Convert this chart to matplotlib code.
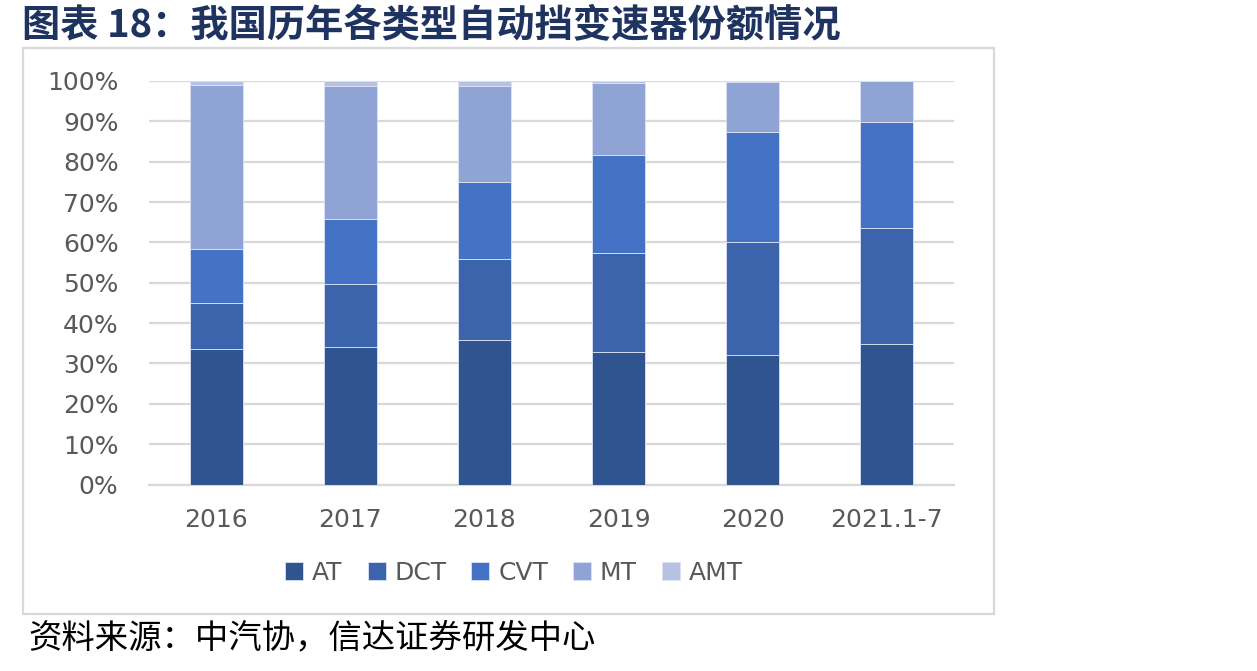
import matplotlib
matplotlib.use('Agg')
import matplotlib.pyplot as plt
from matplotlib.patches import Rectangle
import numpy as np

plt.rcParams['font.family'] = ['DejaVu Sans', 'Noto Sans CJK SC']

# data (share of each transmission type, %)
years = ['2016', '2017', '2018', '2019', '2020', '2021.1-7']
at = [33.6, 34.1, 35.9, 32.8, 32.2, 34.9]
dct = [11.4, 15.7, 20.1, 24.6, 27.9, 28.7]
cvt = [13.4, 16.1, 19.0, 24.3, 27.3, 26.3]
mt = [40.7, 32.9, 23.8, 17.7, 12.4, 10.1]
amt = [0.9, 1.2, 1.2, 0.6, 0.2, 0.0]
y_ticks = [0, 10, 20, 30, 40, 50, 60, 70, 80, 90, 100]

series = [('AT', at, '#30548F'), ('DCT', dct, '#3B64AD'), ('CVT', cvt, '#4472C4'),
          ('MT', mt, '#8FA4D5'), ('AMT', amt, '#B6C1E3')]

fig = plt.figure(figsize=(12.57, 6.71), dpi=100)
ax = fig.add_axes([149/1257, 1 - 484.5/671, (954-149)/1257, (484.5-81)/671])

x = np.arange(len(years))
bottom = np.zeros(len(years))
for name, vals, col in series:
    ax.bar(x, vals, width=0.395, bottom=bottom, color=col, label=name,
           edgecolor='#DCE3F3', linewidth=0.6, zorder=3)
    bottom += np.array(vals)

ax.set_xlim(-0.5, len(years) - 0.5)
ax.set_ylim(0, 100)
ax.set_yticks(y_ticks)
ax.set_yticklabels([f'{v}%' for v in y_ticks], family='DejaVu Sans')
ax.set_xticks(x)
ax.set_xticklabels(years, family='DejaVu Sans')
ax.tick_params(axis='y', length=0, pad=22, labelsize=18, labelcolor='#595959')
ax.tick_params(axis='x', length=0, pad=17, labelsize=18, labelcolor='#595959')
ax.grid(axis='y', color='#D9D9D9', linewidth=1.6, zorder=0)
for s in ['top', 'right', 'left']:
    ax.spines[s].set_visible(False)
ax.spines['bottom'].set_color('#D9D9D9')
ax.spines['bottom'].set_linewidth(1.6)

leg = fig.legend(loc='center', bbox_to_anchor=(514/1257, 1 - 573/671), ncol=5,
                 frameon=False, prop={'family': 'DejaVu Sans', 'size': 18},
                 handlelength=0.72, handleheight=0.72,
                 handletextpad=0.35, columnspacing=1.0)
for t in leg.get_texts():
    t.set_color('#595959')

# chart frame
fig.patches.append(Rectangle((23/1257, 1 - 614/671), (994-23)/1257, (614-48)/671,
                             transform=fig.transFigure, fill=False,
                             edgecolor='#D9D9D9', linewidth=1.6))

fig.text(22/1257, 1 - 25/671, '图表 18：我国历年各类型自动挡变速器份额情况',
         family=['Noto Sans CJK SC', 'DejaVu Sans'], fontsize=27.5, fontweight='bold',
         color='#1F3360', va='center', ha='left')
fig.text(28/1257, 1 - 638/671, '资料来源：中汽协，信达证券研发中心',
         family=['Noto Sans CJK SC', 'DejaVu Sans'], fontsize=24, style='italic',
         color='black', va='center', ha='left')

fig.savefig('out.png', dpi=100)
